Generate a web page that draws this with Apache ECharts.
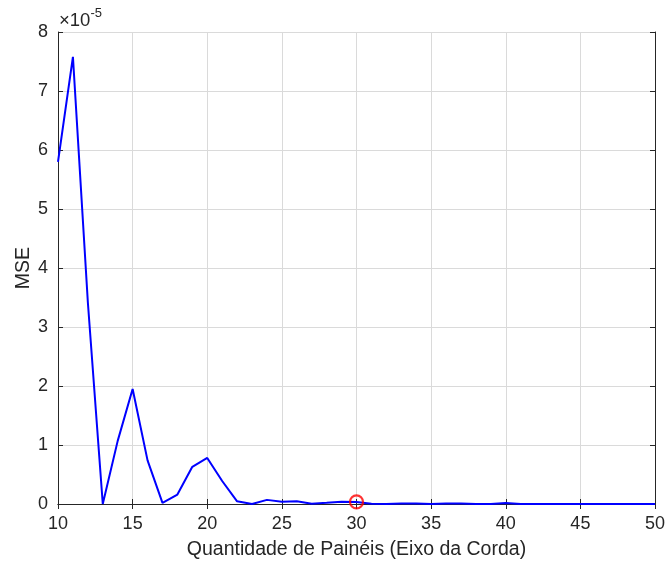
<!DOCTYPE html>
<html>
<head>
<meta charset="utf-8">
<script src="https://cdn.jsdelivr.net/npm/echarts@6/dist/echarts.min.js"></script>
<style>
  html, body { margin: 0; padding: 0; background: #fff; }
  #chart { width: 667px; height: 563px; }
</style>
</head>
<body>
<div id="chart"></div>
<script>
// number of panels along the chord
var paineis = [10, 11, 12, 13, 14, 15, 16, 17, 18, 19, 20, 21, 22, 23, 24, 25, 26, 27, 28, 29, 30,
               31, 32, 33, 34, 35, 36, 37, 38, 39, 40, 41, 42, 43, 44, 45, 46, 47, 48, 49, 50];
// MSE, in units of 1e-5
var mse = [5.8, 7.58, 3.42, 0.0, 1.07, 1.95, 0.74, 0.02, 0.16, 0.63, 0.78, 0.39, 0.045, 0.0, 0.07, 0.04, 0.045, 0.005, 0.02, 0.04, 0.035,
           0.005, 0.0, 0.01, 0.01, 0.0, 0.01, 0.01, 0.0, 0.0, 0.015, 0.0, 0.0, 0.0, 0.0, 0.0, 0.0, 0.0, 0.0, 0.0, 0.0];
var melhor = [30, 0.035];
var xTicks = [10, 15, 20, 25, 30, 35, 40, 45, 50];
var yTicks = [0, 1, 2, 3, 4, 5, 6, 7, 8];

var chart = echarts.init(document.getElementById('chart'));
var axisCol = '#262626';
var font = 'Liberation Sans, Arial, sans-serif';

var pts = paineis.map(function (p, i) { return [p, mse[i]]; });

var option = {
  backgroundColor: '#fff',
  animation: false,
  grid: { left: 58, right: 12, top: 32, bottom: 59, show: false, containLabel: false, outerBoundsMode: 'none' },
  xAxis: [{
    type: 'value', min: xTicks[0], max: xTicks[xTicks.length - 1], interval: 5,
    name: 'Quantidade de Painéis (Eixo da Corda)', nameLocation: 'middle', nameGap: 36,
    nameMoveOverlap: false,
    nameTextStyle: { color: axisCol, fontSize: 19.5, fontFamily: font },
    axisLine: { lineStyle: { color: axisCol, width: 1 } },
    axisTick: { inside: true, length: 5, lineStyle: { color: axisCol } },
    axisLabel: { color: axisCol, fontSize: 18, fontFamily: font, margin: 11 },
    splitLine: { show: true, lineStyle: { color: '#dadada', width: 1 } }
  }, {
    type: 'value', position: 'top', min: 10, max: 50, interval: 5,
    axisLine: { lineStyle: { color: axisCol, width: 1 } },
    axisTick: { inside: true, length: 5, lineStyle: { color: axisCol } },
    axisLabel: { show: false }, splitLine: { show: false }
  }],
  yAxis: [{
    type: 'value', min: yTicks[0], max: yTicks[yTicks.length - 1], interval: 1,
    name: 'MSE', nameLocation: 'middle', nameGap: 24,
    nameMoveOverlap: false,
    nameTextStyle: { color: axisCol, fontSize: 19.5, fontFamily: font },
    axisLine: { show: true, lineStyle: { color: axisCol, width: 1 } },
    axisTick: { show: true, inside: true, length: 5, lineStyle: { color: axisCol } },
    axisLabel: { color: axisCol, fontSize: 18, fontFamily: font, margin: 10 },
    splitLine: { show: true, lineStyle: { color: '#dadada', width: 1 } }
  }, {
    type: 'value', position: 'right', min: 0, max: 8, interval: 1,
    axisLine: { show: true, lineStyle: { color: axisCol, width: 1 } },
    axisTick: { show: true, inside: true, length: 5, lineStyle: { color: axisCol } },
    axisLabel: { show: false }, splitLine: { show: false }
  }],
  graphic: [{
    type: 'text', left: 59, top: 7,
    style: {
      text: '{a|×10}{b|-5}',
      rich: {
        a: { fontSize: 18.5, fontFamily: font, fill: axisCol, verticalAlign: 'bottom' },
        b: { fontSize: 13, fontFamily: font, fill: axisCol, verticalAlign: 'top', padding: [0, 0, 10, 0] }
      }
    }
  }],
  series: [{
    type: 'line', data: pts, showSymbol: false, symbol: 'none',
    lineStyle: { color: '#0000ff', width: 2 }
  }, {
    type: 'scatter', data: [melhor], symbol: 'circle', symbolSize: 13,
    itemStyle: { color: 'rgba(0,0,0,0)', borderColor: '#ff0000', borderWidth: 2.2 },
    z: 5
  }]
};
chart.setOption(option);
</script>
</body>
</html>
